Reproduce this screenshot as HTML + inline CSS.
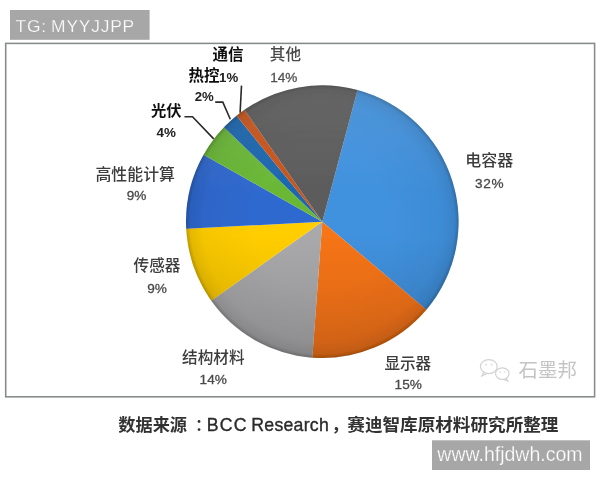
<!DOCTYPE html>
<html lang="zh-CN">
<head>
<meta charset="utf-8">
<title>pie</title>
<style>
html,body{margin:0;padding:0;background:#fff;}
body{width:600px;height:480px;overflow:hidden;position:relative;font-family:"Liberation Sans","Noto Sans CJK SC",sans-serif;}
svg{position:absolute;left:0;top:0;display:block;}
text{font-family:"Liberation Sans","Noto Sans CJK SC",sans-serif;}
.lab{font-size:15.6px;fill:#3c3c3c;font-weight:500;}
.labb{font-size:15.5px;fill:#111;font-weight:700;}
.pct{font-size:13.6px;fill:#484848;stroke:#484848;stroke-width:0.3px;}
.pctb{font-size:14.5px;fill:#222;stroke:#222;stroke-width:0.35px;}
.cap{font-size:17px;fill:#333;font-weight:700;}
</style>
</head>
<body>
<svg width="600" height="480" viewBox="0 0 600 480">
<defs>
<radialGradient id="bev" cx="322.3" cy="221.7" r="136.3" gradientUnits="userSpaceOnUse">
<stop offset="0" stop-color="#000" stop-opacity="0"/>
<stop offset="0.5" stop-color="#000" stop-opacity="0"/>
<stop offset="0.88" stop-color="#000" stop-opacity="0.04"/>
<stop offset="0.97" stop-color="#000" stop-opacity="0.10"/>
<stop offset="1" stop-color="#000" stop-opacity="0.26"/>
</radialGradient>
<linearGradient id="lit" x1="0" y1="85.39999999999998" x2="0" y2="358.0" gradientUnits="userSpaceOnUse">
<stop offset="0" stop-color="#fff" stop-opacity="0.09"/>
<stop offset="0.4" stop-color="#fff" stop-opacity="0"/>
<stop offset="0.55" stop-color="#000" stop-opacity="0"/>
<stop offset="1" stop-color="#000" stop-opacity="0.13"/>
</linearGradient>
<filter id="soft" x="0" y="0" width="600" height="480" filterUnits="userSpaceOnUse"><feGaussianBlur stdDeviation="0.4"/></filter>
</defs>
<rect x="0" y="0" width="600" height="480" fill="#fff"/>
<g filter="url(#soft)">
<rect x="5.7" y="43.4" width="588.9" height="353.4" fill="#fff" stroke="#858989" stroke-width="1.55"/>
<g>
<path d="M322.3,221.7 L357.58,90.04 A136.3,136.3 0 0 1 426.41,309.68 Z" fill="#4091de"/>
<path d="M322.3,221.7 L426.41,309.68 A136.3,136.3 0 0 1 312.32,357.63 Z" fill="#f67416"/>
<path d="M322.3,221.7 L312.32,357.63 A136.3,136.3 0 0 1 211.20,300.66 Z" fill="#a9a9ab"/>
<path d="M322.3,221.7 L211.20,300.66 A136.3,136.3 0 0 1 186.19,228.83 Z" fill="#ffcd04"/>
<path d="M322.3,221.7 L186.19,228.83 A136.3,136.3 0 0 1 203.55,154.79 Z" fill="#2f69cf"/>
<path d="M322.3,221.7 L203.55,154.79 A136.3,136.3 0 0 1 223.92,127.36 Z" fill="#6ab736"/>
<path d="M322.3,221.7 L223.92,127.36 A136.3,136.3 0 0 1 236.52,115.78 Z" fill="#1c66ae"/>
<path d="M322.3,221.7 L236.52,115.78 A136.3,136.3 0 0 1 244.46,109.81 Z" fill="#c8541a"/>
<path d="M322.3,221.7 L244.46,109.81 A136.3,136.3 0 0 1 357.58,90.04 Z" fill="#5b5b5b"/>
<circle cx="322.3" cy="221.7" r="136.3" fill="url(#bev)"/>
<circle cx="322.3" cy="221.7" r="136.3" fill="url(#lit)"/>
</g>
<g fill="none" stroke="#2a2a2a" stroke-width="1.6">
<path d="M241.5,85.6 L240.1,112.8"/>
<path d="M215.2,102.1 L222.8,102.1 L230.3,119.2"/>
<path d="M184.5,116.7 L192.5,116.7 L213.7,138.9"/>
</g>
<g text-anchor="middle">
<text class="labb" x="228" y="60.3">通信</text>
<text class="lab" x="285.4" y="60.3" style="fill:#4a4a4a">其他</text>
<text class="labb" x="204" y="80.6">热控</text>
<text class="pctb" x="228.6" y="81.8" style="font-size:13.2px;font-weight:700;stroke:none">1%</text>
<text class="pct" x="283.8" y="82" style="fill:#5a5a5a">14%</text>
<text class="pctb" x="204.3" y="101.4" style="font-size:13.2px;font-weight:700;stroke:none">2%</text>
<text class="labb" x="166.3" y="115.8" style="font-size:15.3px">光伏</text>
<text class="pctb" x="166.3" y="137" style="font-size:13.4px;font-weight:700;stroke:none">4%</text>
<text class="lab" x="135.2" y="179.5" style="font-size:15.9px">高性能计算</text>
<text class="pct" x="136.5" y="199.6">9%</text>
<text class="lab" x="489.2" y="166" style="font-size:16px">电容器</text>
<text class="pct" x="489.6" y="187.8" letter-spacing="0.6">32%</text>
<text class="lab" x="157" y="270.5">传感器</text>
<text class="pct" x="157" y="292.5">9%</text>
<text class="lab" x="213.3" y="363.1">结构材料</text>
<text class="pct" x="213.2" y="383.8">14%</text>
<text class="lab" x="407.8" y="368.5">显示器</text>
<text class="pct" x="408.2" y="388.8">15%</text>
</g>
<g fill="none" stroke="#d2d2d2" stroke-width="1.2">
<ellipse cx="488.8" cy="366.6" rx="8.4" ry="7"/>
<path d="M483.6,372.2 L481.8,376 L486.6,373.6"/>
<ellipse cx="502.3" cy="373.6" rx="6.8" ry="5.8" fill="#fff"/>
<path d="M506,378.4 L507.8,381 L503.2,379.2"/>
<g fill="#d6d6d6" stroke="none"><circle cx="486" cy="364.6" r="0.9"/><circle cx="491.8" cy="364.6" r="0.9"/><circle cx="500.2" cy="372" r="0.8"/><circle cx="504.6" cy="372" r="0.8"/></g>
</g>
<text x="518.6" y="376.8" font-size="19.5" fill="#c4c4c4" font-weight="400">石墨邦</text>
<text class="cap" y="430.7"><tspan x="118.3" font-size="17.2">数据来源</tspan><tspan x="194.8" font-size="17.2" font-weight="500">：</tspan><tspan x="206.8" font-size="17.7" font-weight="400" letter-spacing="1.2" fill="#2a2a2a" stroke="#2a2a2a" stroke-width="0.35">BCC </tspan><tspan x="251.3" font-size="17.7" font-weight="400" letter-spacing="0.25" fill="#2a2a2a" stroke="#2a2a2a" stroke-width="0.35">Research</tspan><tspan x="331.5" font-size="17.2">，</tspan><tspan x="347.3" font-size="17.6">赛迪智库原材料研究所整理</tspan></text>
</g>
<rect x="10" y="10" width="139.6" height="29.8" fill="#a7a7a7"/>
<text x="15.6" y="32" font-size="17.4" fill="#fff" stroke="#a7a7a7" stroke-width="0.25" letter-spacing="0.8" word-spacing="-1.5">TG: MYYJJPP</text>
<rect x="432" y="440.3" width="158" height="29.7" fill="#a7a7a7"/>
<text x="437.3" y="461" font-size="19.5" fill="#fff" stroke="#a7a7a7" stroke-width="0.25">www.hfjdwh.com</text>
</svg>
</body>
</html>
